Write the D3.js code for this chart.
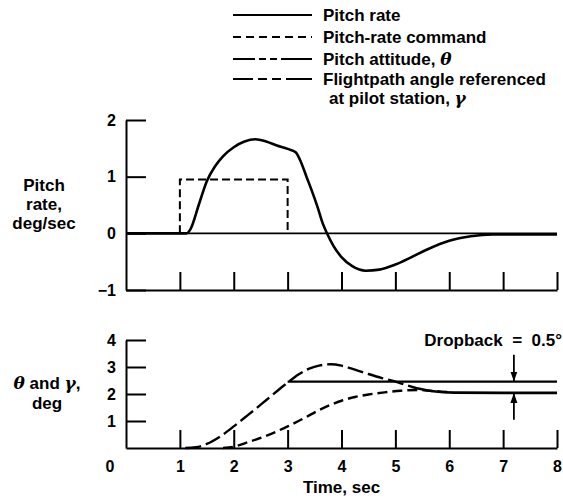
<!DOCTYPE html>
<html>
<head>
<meta charset="utf-8">
<script src="https://cdn.jsdelivr.net/npm/d3@7"></script>
<style>
  body { margin: 0; background: #fff; }
  svg { display: block; font-family: "Liberation Sans", Arial, sans-serif; font-weight: bold; }
</style>
</head>
<body>
<svg id="chart" width="563" height="501"></svg>
<script>
// time ticks (sec)
const timeTicks = [1, 2, 3, 4, 5, 6, 7, 8];
const rateTicks = [-1, 0, 1, 2];
const angleTicks = [1, 2, 3, 4];

// pitch rate, deg/sec  [t, q]
const pitchRate = [
  [0, 0], [1.12, 0], [1.2, 0.08], [1.35, 0.5], [1.5, 0.92], [1.65, 1.18], [1.8, 1.36],
  [2.0, 1.52], [2.2, 1.62], [2.4, 1.66], [2.6, 1.62], [2.8, 1.55], [3.0, 1.49],
  [3.15, 1.43], [3.25, 1.25], [3.35, 1.0], [3.45, 0.75], [3.55, 0.48], [3.65, 0.18],
  [3.73, 0], [3.85, -0.22], [4.0, -0.42], [4.2, -0.58], [4.45, -0.66], [4.7, -0.64],
  [5.0, -0.55], [5.3, -0.42], [5.6, -0.28], [6.0, -0.13], [6.4, -0.05], [6.8, -0.02],
  [7.2, -0.02], [8.0, -0.02]
];
// pitch-rate command
const rateCommand = [[1, 0], [1, 0.95], [3, 0.95], [3, 0]];

// pitch attitude theta, deg
const theta = [
  [1.1, 0], [1.3, 0.03], [1.5, 0.15], [1.75, 0.43], [2.0, 0.8], [2.2, 1.12], [2.4, 1.44],
  [2.6, 1.77], [2.8, 2.1], [3.0, 2.42], [3.2, 2.72], [3.4, 2.94], [3.6, 3.06], [3.8, 3.1],
  [4.0, 3.05], [4.25, 2.9], [4.5, 2.74], [4.75, 2.59], [5.0, 2.46], [5.2, 2.33],
  [5.4, 2.21], [5.7, 2.1], [6.1, 2.05], [7.0, 2.04], [8.0, 2.04]
];
// flightpath angle at pilot station gamma, deg
const gamma = [
  [1.8, 0], [2.0, 0.05], [2.3, 0.24], [2.6, 0.45], [3.0, 0.8], [3.3, 1.1], [3.6, 1.42],
  [3.8, 1.6], [4.0, 1.75], [4.25, 1.89], [4.5, 1.98], [4.8, 2.06], [5.1, 2.12],
  [5.4, 2.15], [5.7, 2.11], [6.0, 2.07]
];
// attitude held at end of command
const plateau = [[3, 2.46], [8, 2.46]];
// dropback arrows: [t, from, to]
const dropArrows = [[7.2, 3.45, 2.46], [7.2, 1.05, 2.04]];

const svg = d3.select("#chart");
const x = d3.scaleLinear().domain([0, 8]).range([126, 557]);
const yRate = d3.scaleLinear().domain([-1, 2]).range([290, 120]);
const yAng = d3.scaleLinear().domain([0, 4]).range([448, 340]);
const fmt = d3.format("d");

svg.append("defs").append("marker")
  .attr("id", "arrow").attr("viewBox", "0 0 10 10")
  .attr("refX", 10).attr("refY", 5)
  .attr("markerWidth", 10).attr("markerHeight", 10)
  .attr("markerUnits", "userSpaceOnUse").attr("orient", "auto")
  .append("path").attr("d", "M0,1.5L10,5L0,8.5Z").attr("fill", "#000");

function styleAxis(g, size) {
  g.selectAll("path, line").attr("stroke", "#000").attr("stroke-width", 2);
  g.selectAll("text").attr("font-family", "Liberation Sans, Arial, sans-serif")
    .attr("font-weight", "bold").attr("font-size", size).attr("fill", "#000");
}

// ----- top panel -----
svg.append("g").attr("transform", `translate(0,${yRate(-1)})`)
  .call(d3.axisBottom(x).tickValues(timeTicks).tickSizeInner(-18).tickSizeOuter(0).tickFormat(""))
  .call(g => styleAxis(g, 16));

svg.append("g").attr("transform", `translate(${x(0)},0)`)
  .call(d3.axisLeft(yRate).tickValues(rateTicks).tickFormat(fmt).tickSizeInner(-20).tickSizeOuter(0).tickPadding(10))
  .call(g => styleAxis(g, 16));

svg.append("line")
  .attr("x1", x(0)).attr("x2", x(8)).attr("y1", yRate(0)).attr("y2", yRate(0))
  .attr("stroke", "#000").attr("stroke-width", 1.6);

const lineRate = d3.line().x(d => x(d[0])).y(d => yRate(d[1])).curve(d3.curveMonotoneX);
svg.append("path").datum(pitchRate).attr("d", lineRate)
  .attr("fill", "none").attr("stroke", "#000").attr("stroke-width", 2.6);

svg.append("path").datum(rateCommand)
  .attr("d", d3.line().x(d => x(d[0])).y(d => yRate(d[1])))
  .attr("fill", "none").attr("stroke", "#000").attr("stroke-width", 2)
  .attr("stroke-dasharray", "8,4");

// ----- bottom panel -----
svg.append("g").attr("transform", `translate(0,${yAng(0)})`)
  .call(d3.axisBottom(x).tickValues(timeTicks).tickFormat(fmt).tickSizeInner(-18).tickSizeOuter(0).tickPadding(13))
  .call(g => styleAxis(g, 16));

svg.append("g").attr("transform", `translate(${x(0)},0)`)
  .call(d3.axisLeft(yAng).tickValues(angleTicks).tickFormat(fmt).tickSizeInner(-20).tickSizeOuter(0).tickPadding(10))
  .call(g => styleAxis(g, 16));

svg.append("text").attr("x", x(0) - 16).attr("y", yAng(0) + 24)
  .attr("text-anchor", "middle").attr("font-size", 16).text("0");

const lineAng = d3.line().x(d => x(d[0])).y(d => yAng(d[1])).curve(d3.curveMonotoneX);

svg.append("path").datum(plateau).attr("d", lineAng)
  .attr("fill", "none").attr("stroke", "#000").attr("stroke-width", 2.2);

svg.append("path").datum(theta.filter(d => d[0] <= 5.4)).attr("d", lineAng)
  .attr("fill", "none").attr("stroke", "#000").attr("stroke-width", 2.4)
  .attr("stroke-dasharray", "16,5");
svg.append("path").datum(theta.filter(d => d[0] >= 5.4)).attr("d", lineAng)
  .attr("fill", "none").attr("stroke", "#000").attr("stroke-width", 2.6);

svg.append("path").datum(gamma).attr("d", lineAng)
  .attr("fill", "none").attr("stroke", "#000").attr("stroke-width", 2.4)
  .attr("stroke-dasharray", "10,5");

svg.selectAll(".drop").data(dropArrows).join("line")
  .attr("x1", d => x(d[0])).attr("x2", d => x(d[0]))
  .attr("y1", d => yAng(d[1])).attr("y2", d => yAng(d[2]))
  .attr("stroke", "#000").attr("stroke-width", 1.8)
  .attr("marker-end", "url(#arrow)");

svg.append("text").attr("x", 562).attr("y", 346).attr("text-anchor", "end")
  .attr("font-size", 17).attr("xml:space", "preserve").text("Dropback  =  0.5°");

// ----- axis titles -----
const rateTitle = svg.append("text").attr("text-anchor", "middle").attr("font-size", 17);
["Pitch", "rate,", "deg/sec"].forEach((s, i) =>
  rateTitle.append("tspan").attr("x", 44).attr("y", 191 + i * 19).text(s));

const angTitle = svg.append("text").attr("text-anchor", "middle").attr("font-size", 17);
const l1 = angTitle.append("tspan").attr("x", 47).attr("y", 389);
l1.append("tspan").attr("font-style", "italic").attr("font-family", "DejaVu Serif").text("θ");
l1.append("tspan").text(" and ");
l1.append("tspan").attr("font-style", "italic").attr("font-family", "DejaVu Serif").text("γ");
l1.append("tspan").text(",");
angTitle.append("tspan").attr("x", 47).attr("y", 409).text("deg");

svg.append("text").attr("x", x(4)).attr("y", 493).attr("text-anchor", "middle")
  .attr("font-size", 17).text("Time, sec");

// ----- legend -----
const legendItems = [
  { label: "Pitch rate", dash: null, y: 15 },
  { label: "Pitch-rate command", dash: "8,5", y: 37 },
  { label: "Pitch attitude, ", sym: "θ", dash: "22,4,7,4,7,4,40", y: 59 },
  { label: "Flightpath angle referenced", dash: "20,5,9,5,9,5,40", y: 79 }
];
const leg = svg.append("g");
legendItems.forEach(d => {
  leg.append("line").attr("x1", 233).attr("x2", 312).attr("y1", d.y).attr("y2", d.y)
    .attr("stroke", "#000").attr("stroke-width", 2)
    .attr("stroke-dasharray", d.dash);
  const tx = leg.append("text").attr("x", 323).attr("y", d.y + 6).attr("font-size", 17).text(d.label);
  if (d.sym) tx.append("tspan").attr("font-style", "italic").attr("font-family", "DejaVu Serif").text(d.sym);
});
const last = leg.append("text").attr("x", 329).attr("y", 104).attr("font-size", 17).text("at pilot station, ");
last.append("tspan").attr("font-style", "italic").attr("font-family", "DejaVu Serif").text("γ");
</script>
</body>
</html>
